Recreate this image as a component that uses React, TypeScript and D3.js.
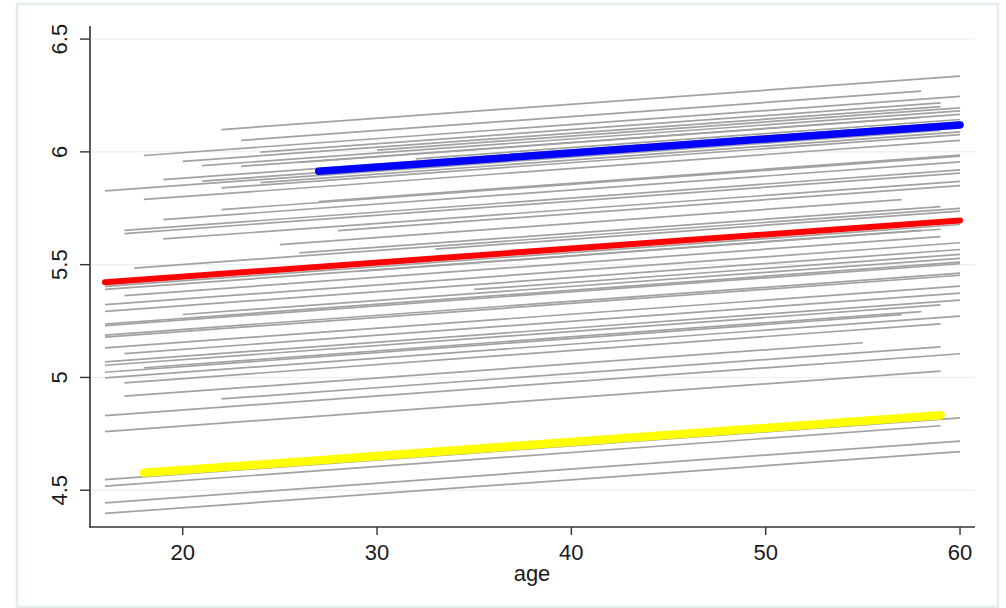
import React from "react";
import * as d3 from "d3";

// ---- data ----
const xTicks = [20, 30, 40, 50, 60];
const yTicks = [4.5, 5, 5.5, 6, 6.5];
const yTickLabels = ["4.5", "5", "5.5", "6", "6.5"];
const slope = 0.00623; // common slope per year of age

// gray fitted lines: start age, end age, fitted value at start age
const grayStart = [22, 23, 18, 20, 21, 23, 19, 21, 16, 22, 18, 22, 19, 17, 17, 19, 25, 26, 16, 16, 17, 16, 16, 20, 16, 16, 16, 16, 16, 17, 16, 16, 18, 16, 16, 17, 17, 22, 16, 16, 16, 16, 16, 16, 30, 28, 17.5, 33, 26, 32, 24, 24, 27, 29, 35];
const grayEnd = [60, 58, 60, 59, 60, 60, 60, 60, 59, 60, 60, 60, 60, 60, 60, 60, 57, 59, 60, 58, 59, 60, 60, 60, 60, 60, 60, 60, 60, 60, 60, 59, 58, 57, 60, 59, 55, 59, 60, 59, 60, 59, 60, 60, 60, 60, 60, 60, 58, 60, 59, 60, 60, 59, 60];
const grayValue = [6.099, 6.051, 5.984, 5.958, 5.939, 5.936, 5.877, 5.87, 5.827, 5.84, 5.789, 5.744, 5.7, 5.652, 5.638, 5.614, 5.589, 5.552, 5.404, 5.39, 5.363, 5.323, 5.293, 5.279, 5.237, 5.23, 5.188, 5.179, 5.131, 5.106, 5.069, 5.054, 5.043, 5.023, 4.998, 4.976, 4.917, 4.905, 4.831, 4.76, 4.547, 4.518, 4.444, 4.397, 6.008, 5.651, 5.485, 5.569, 5.953, 5.969, 5.999, 5.864, 5.78, 5.47, 5.39];

// highlighted lines
const highlightNames = ["yellow", "red", "blue"];
const highlightStart = [18, 16, 27];
const highlightEnd = [59, 60, 60];
const highlightValue = [4.577, 5.422, 5.914];
const highlightColor = ["#ffff00", "#ff0000", "#0000ff"];
const highlightWidth = [8.5, 6, 7.5];

export default function App() {
  const W = 1006, H = 608;
  const x = d3.scaleLinear().domain([15.23, 60.77]).range([90, 975]);
  const y = d3.scaleLinear().domain([4.337, 6.558]).range([527, 26]);
  const line = d3
    .line<[number, number]>()
    .x((d) => x(d[0]))
    .y((d) => y(d[1]));

  const seg = (s: number, e: number, v: number) =>
    line([
      [s, v],
      [e, v + slope * (e - s)],
    ]) as string;

  const font = "'Liberation Sans', Arial, sans-serif";

  return (
    <svg
      width={W}
      height={H}
      style={{ position: "absolute", left: 0, top: 0, background: "#fff" }}
    >
      <rect x={0} y={0} width={W} height={H} fill="#ffffff" />
      <rect x={17} y={4} width={981} height={603} fill="none" stroke="#e3edee" strokeWidth={2.5} />

      {/* grid */}
      {yTicks.map((t) => (
        <line key={"g" + t} x1={90} x2={975} y1={y(t)} y2={y(t)} stroke="#edf3f3" strokeWidth={1.5} />
      ))}

      {/* gray lines */}
      {grayStart.map((s, i) => (
        <path
          key={"l" + i}
          d={seg(s, grayEnd[i], grayValue[i])}
          fill="none"
          stroke="#a2a2a2"
          strokeWidth={1.7}
        />
      ))}

      {/* highlighted lines */}
      {highlightNames.map((n, i) => (
        <path
          key={n}
          d={seg(highlightStart[i], highlightEnd[i], highlightValue[i])}
          fill="none"
          stroke={highlightColor[i]}
          strokeWidth={highlightWidth[i]}
          strokeLinecap="round"
        />
      ))}

      {/* y axis */}
      <line x1={90} x2={90} y1={26} y2={527.5} stroke="#333" strokeWidth={1.6} />
      {yTicks.map((t, i) => (
        <g key={"y" + t}>
          <line x1={80} x2={90} y1={y(t)} y2={y(t)} stroke="#333" strokeWidth={1.4} />
          <text
            transform={`translate(67,${y(t)}) rotate(-90)`}
            textAnchor="middle"
            fontFamily={font}
            fontSize={22}
            fill="#1a1a1a"
          >
            {yTickLabels[i]}
          </text>
        </g>
      ))}

      {/* x axis */}
      <line x1={89.2} x2={975} y1={527} y2={527} stroke="#333" strokeWidth={1.6} />
      {xTicks.map((t) => (
        <g key={"x" + t}>
          <line x1={x(t)} x2={x(t)} y1={527} y2={535} stroke="#333" strokeWidth={1.4} />
          <text x={x(t)} y={560} textAnchor="middle" fontFamily={font} fontSize={22} fill="#1a1a1a">
            {t}
          </text>
        </g>
      ))}
      <text x={532} y={581} textAnchor="middle" fontFamily={font} fontSize={22} fill="#1a1a1a">
        age
      </text>
    </svg>
  );
}
